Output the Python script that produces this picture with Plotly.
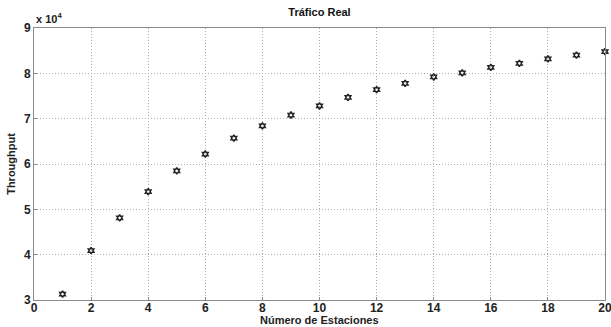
import plotly.graph_objects as go

estaciones = list(range(1, 21))
throughput = [31300, 40900, 48100, 53900, 58500, 62200, 65700, 68400, 70800, 72800,
              74700, 76400, 77800, 79200, 80100, 81300, 82200, 83200, 84000, 84800]
x_ticks = list(range(0, 21, 2))
y_tickvals = [30000, 40000, 50000, 60000, 70000, 80000, 90000]
y_ticktext = ["3", "4", "5", "6", "7", "8", "9"]

fnt = "Liberation Sans, Arial, sans-serif"

fig = go.Figure()
fig.add_trace(go.Scatter(
    x=estaciones, y=throughput, mode="markers",
    marker=dict(symbol="hexagram-open", size=5, color="#222222",
                line=dict(color="#222222", width=1.5)),
    showlegend=False, cliponaxis=False,
))

fig.update_layout(
    width=611, height=327,
    margin=dict(l=34, r=6, t=28, b=27, autoexpand=False),
    paper_bgcolor="white", plot_bgcolor="white",
    font=dict(family=fnt, color="black"),
    title=dict(text="Tráfico Real", xref="paper", x=0.5, xanchor="center",
               y=0.975, yanchor="top",
               font=dict(family=fnt, size=11, weight="bold", color="#111")),
    xaxis=dict(
        range=[0, 20], tickvals=x_ticks, ticktext=[str(v) for v in x_ticks],
        showgrid=True, gridcolor="#b0b0b0", griddash="1px,2px", gridwidth=1,
        showline=True, mirror=True, linecolor="#8a8a8a", linewidth=1,
        ticks="inside", ticklen=3, tickcolor="#8a8a8a",
        zeroline=False, automargin=False, ticklabeloverflow="allow",
        ticklabelstandoff=-3,
        tickfont=dict(family=fnt, size=12, weight="bold", color="#222"),
    ),
    yaxis=dict(
        range=[30000, 90000], tickvals=y_tickvals, ticktext=y_ticktext,
        showgrid=True, gridcolor="#b0b0b0", griddash="1px,2px", gridwidth=1,
        showline=True, mirror=True, linecolor="#8a8a8a", linewidth=1,
        ticks="inside", ticklen=3, tickcolor="#8a8a8a",
        zeroline=False, automargin=False, ticklabeloverflow="allow",
        tickfont=dict(family=fnt, size=12, weight="bold", color="#222"),
        title=dict(text="Throughput", standoff=6,
                   font=dict(family=fnt, size=11, weight="bold", color="#222")),
    ),
    annotations=[
        dict(text="x 10<sup>4</sup>", xref="paper", yref="paper", x=0.0, y=1.0,
             xanchor="left", yanchor="bottom", showarrow=False, yshift=1,
             font=dict(family=fnt, size=11, weight="bold", color="#222")),
        dict(text="Número de Estaciones", xref="paper", yref="paper", x=0.5, y=0,
             xanchor="center", yanchor="top", showarrow=False, yshift=-12,
             font=dict(family=fnt, size=11, weight="bold", color="#222")),
    ],
)

fig.write_html("out.html", config={"displayModeBar": False},
               post_script="document.body.style.margin='0';")
